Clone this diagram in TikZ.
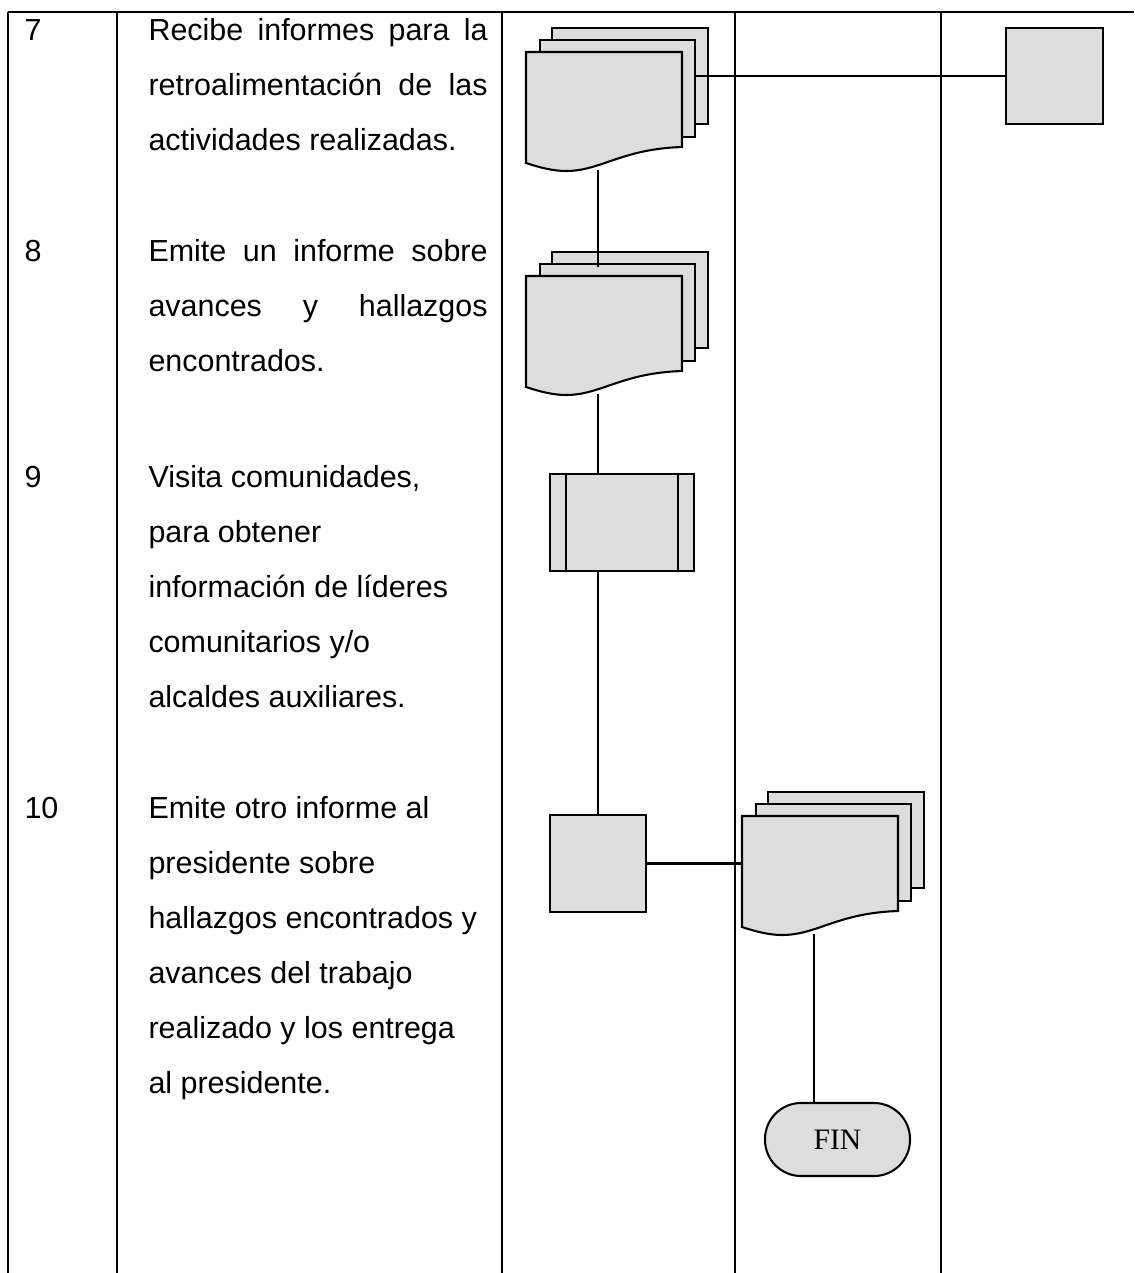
\documentclass[tikz,border=0pt]{standalone}
\usepackage{fontspec}
\setmainfont{Liberation Sans}
\newfontfamily\finfont{Liberation Serif}

\definecolor{gris}{RGB}{221,221,221}
\tikzset{
    caja/.style={draw, fill=gris, line width=0.8pt, inner sep=0pt},
    linea/.style={line width=0.8pt},
    tabla/.style={line width=1pt},
    paso/.style={anchor=base west, inner sep=0pt, font=\fontsize{11.8pt}{14pt}\selectfont},
}

\newcommand{\multidoc}[3]{%
    \begin{scope}[shift={(#2,#3)}]
        \node[caja, anchor=north west, minimum width=60.4pt, minimum height=37.2pt] (#1-b) at (25,-25) {};
        \node[caja, anchor=north west, minimum width=60.1pt, minimum height=37.6pt] (#1-m) at (13,-13) {};
        \draw[caja] (0,0) -- (156,0) -- (156,95) .. controls (95,97) and (75,119) .. (40,119)
            .. controls (28,119) and (15,116) .. (0,111) -- cycle;
        \node[anchor=north west, inner sep=0pt, minimum width=60.4pt, minimum height=43pt] (#1) at (0,0) {};
        \coordinate (#1-in) at (72,-9);
        \coordinate (#1-out) at (72,118);
    \end{scope}}

\begin{document}
\begin{tikzpicture}[x=0.3875pt, y=-0.3875pt]
    \useasboundingbox (0,0) rectangle (1134,1273);

    \draw [tabla] (8,12) -- (1134,12);
    \foreach \x in {8, 117, 502, 735, 941}
        \draw [tabla] (\x,12) -- (\x,1273);

    \node [paso] (n7) at (24,41) {7};
    \node [paso] (n8) at (24,261) {8};
    \node [paso] (n9) at (24,487) {9};
    \node [paso] (n10) at (24,818) {10};

    \node [paso] (t7-0) at (148,41) {\makebox[131.4pt][s]{Recibe informes para la}};
    \node [paso] (t7-1) at (148,96) {\makebox[131.4pt][s]{retroalimentación de las}};
    \node [paso] (t7-2) at (148,151) {actividades realizadas.};

    \node [paso] (t8-0) at (148,261) {\makebox[131.4pt][s]{Emite un informe sobre}};
    \node [paso] (t8-1) at (148,316) {\makebox[131.4pt][s]{avances y hallazgos}};
    \node [paso] (t8-2) at (148,371) {encontrados.};

    \foreach \txt [count=\i from 0] in {{Visita comunidades,}, para obtener,
        información de líderes, comunitarios y/o, alcaldes auxiliares.}
        \node [paso] (t9-\i) at (148,487+55*\i) {\txt};

    \foreach \txt [count=\i from 0] in {Emite otro informe al, presidente sobre,
        hallazgos encontrados y, avances del trabajo, realizado y los entrega, al presidente.}
        \node [paso] (t10-\i) at (148,818+55*\i) {\txt};

    \multidoc{doc7}{526}{52}
    \multidoc{doc8}{526}{276}
    \multidoc{doc10}{742}{816}

    \node [caja, minimum width=37.6pt, minimum height=37.2pt] (sq7) at (1054.5,76) {};
    \node [caja, minimum width=55.8pt, minimum height=37.6pt] (proc9) at (622,522.5) {};
    \draw [linea] ([xshift=6.6pt]proc9.north west) -- ([xshift=6.6pt]proc9.south west);
    \draw [linea] ([xshift=-6.6pt]proc9.north east) -- ([xshift=-6.6pt]proc9.south east);
    \node [caja, minimum width=37.2pt, minimum height=37.6pt] (sq10) at (598,863.5) {};
    \node [caja, rounded corners=14pt, minimum width=56.2pt, minimum height=28.3pt,
        font=\finfont\fontsize{11.5pt}{13pt}\selectfont] (fin) at (837.5,1139.5) {FIN};

    \draw [linea] (doc7-m.east |- sq7.west) -- (sq7.west);
    \draw [linea] (doc7-out) -- (doc8-in);
    \draw [linea] (doc8-out) -- (proc9.north -| sq10.north);
    \draw [linea] (proc9.south -| sq10.north) -- (sq10.north);
    \draw [linea] (sq10.east) -- (sq10.east -| doc10.west);
    \draw [linea] (doc10-out) -- (doc10-out |- fin.north);

\end{tikzpicture}
\end{document}
